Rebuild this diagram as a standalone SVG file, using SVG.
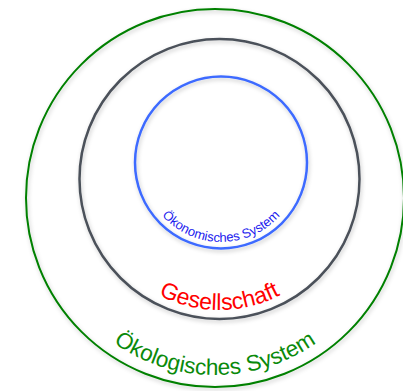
<svg xmlns="http://www.w3.org/2000/svg" width="403" height="391" viewBox="0 0 403 391">
  <style>
    .ring { fill: none; filter: url(#halo); }
    .label { font-family: "Liberation Sans", Arial, sans-serif; }
  </style>
  <defs>
    <filter id="halo" x="-20%" y="-20%" width="140%" height="140%">
      <feDropShadow dx="1" dy="2" stdDeviation="2" flood-color="#000" flood-opacity="0.22"/>
    </filter>
    <!-- baseline arcs for the ring labels, running left to right along the bottom -->
    <path id="arc-oeko" d="M 141.5,162.5 A 79.5 79.5 0 0 0 300.5,162.5"/>
    <path id="arc-ges" d="M 88.5,179 A 131 131 0 0 0 350.5,179"/>
    <path id="arc-umwelt" d="M 38,198 A 177 177 0 0 0 392,198"/>
  </defs>
  <rect width="403" height="391" fill="#fff"/>

  <g id="oekologisches-system">
    <circle class="ring" cx="215" cy="198" r="189" stroke="#008000" stroke-width="2"/>
    <text class="label" font-size="22.5" fill="#0a8a0a" text-anchor="middle"><textPath href="#arc-umwelt" startOffset="50%">Ökologisches System</textPath></text>
  </g>

  <g id="gesellschaft">
    <circle class="ring" cx="219.5" cy="179" r="140" stroke="#4b515a" stroke-width="2.5"/>
    <text class="label" font-size="23" fill="#ff0000" text-anchor="middle"><textPath href="#arc-ges" startOffset="50%">Gesellschaft</textPath></text>
  </g>

  <g id="oekonomisches-system">
    <circle class="ring" cx="221" cy="162.5" r="86" stroke="#3d6bff" stroke-width="2.5"/>
    <text class="label" font-size="13" fill="#1a1aee" text-anchor="middle"><textPath href="#arc-oeko" startOffset="50%">Ökonomisches System</textPath></text>
  </g>
</svg>
